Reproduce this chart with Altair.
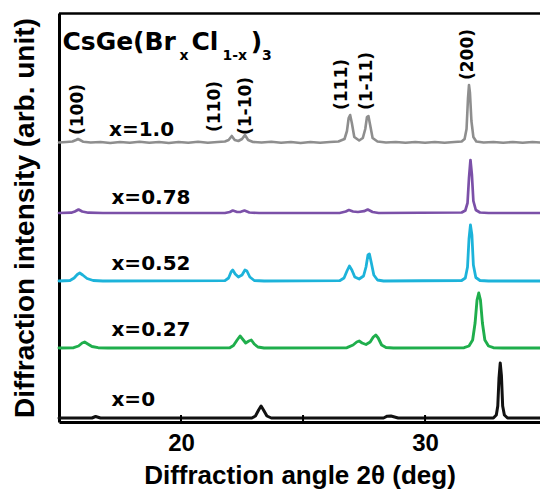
import altair as alt
import pandas as pd

# ---- data (2theta in deg, intensity above each trace's baseline) ----
SERIES = ["x=0", "x=0.27", "x=0.52", "x=0.78", "x=1.0"]
COLORS = ["#111111", "#1fae4c", "#1cb3da", "#7b50a8", "#8e8e8e"]
OFFSETS = [4, 74, 141, 209, 279]
WIDTHS = [3.0, 2.6, 2.6, 2.6, 2.6]
LABEL_Y = [22, 92.5, 158.5, 224, 292]
LABEL_X = [17.15, 17.15, 17.15, 17.15, 17.05]

BLACK = [(15.0, 0.0), (16.35, 0.0), (16.5, 1.5), (16.7, 0.0), (22.9, 0.0), (23.05, 2.0),
         (23.18, 8.0), (23.28, 12.0), (23.38, 8.0), (23.52, 2.0), (23.7, 0.0), (28.3, 0.0),
         (28.45, 1.8), (28.6, 2.0), (28.75, 1.0), (28.9, 0.0), (32.8, 0.0), (32.92, 3.0),
         (32.98, 12.0), (33.03, 40.0), (33.08, 55.0), (33.13, 42.0), (33.18, 12.0),
         (33.25, 3.0), (33.38, 0.0), (34.71, 0.0)]

GREEN = [(15.0, 0.0), (15.6, 0.3), (15.8, 2.0), (15.95, 5.0), (16.05, 6.0), (16.18, 4.0),
         (16.35, 1.5), (16.6, 0.3), (17.0, 0.0), (22.0, 0.3), (22.15, 2.5), (22.3, 8.0),
         (22.42, 12.0), (22.52, 9.0), (22.65, 5.0), (22.78, 7.0), (22.88, 8.0), (23.0, 4.0),
         (23.15, 1.0), (23.4, 0.0), (26.8, 0.3), (27.05, 3.0), (27.2, 6.0), (27.3, 7.0),
         (27.42, 5.0), (27.58, 3.5), (27.75, 6.0), (27.88, 11.0), (27.98, 13.0), (28.08, 10.0),
         (28.22, 3.0), (28.4, 0.5), (28.7, 0.0), (31.6, 0.3), (31.8, 2.0), (31.95, 8.0),
         (32.05, 25.0), (32.13, 48.0), (32.2, 55.0), (32.27, 48.0), (32.35, 25.0),
         (32.45, 8.0), (32.6, 2.0), (32.8, 0.3), (33.2, 0.0), (34.71, 0.0)]

CYAN = [(15.0, 0.0), (15.45, 0.5), (15.62, 3.0), (15.75, 6.5), (15.85, 8.0), (15.97, 6.0),
        (16.15, 2.5), (16.4, 0.5), (16.8, 0.0), (21.8, 0.3), (21.95, 3.0), (22.05, 9.0),
        (22.12, 11.0), (22.22, 7.0), (22.35, 4.0), (22.5, 6.0), (22.62, 11.0), (22.7, 10.0),
        (22.82, 4.0), (23.0, 0.5), (23.4, 0.0), (26.5, 0.3), (26.68, 3.0), (26.8, 10.0),
        (26.9, 15.0), (27.0, 11.0), (27.12, 4.0), (27.3, 2.0), (27.48, 5.0), (27.58, 14.0),
        (27.66, 26.0), (27.72, 27.0), (27.8, 18.0), (27.9, 6.0), (28.05, 1.0), (28.3, 0.0),
        (31.5, 0.5), (31.65, 3.0), (31.74, 14.0), (31.8, 42.0), (31.86, 56.0), (31.92, 46.0),
        (31.98, 16.0), (32.08, 3.5), (32.25, 0.5), (32.6, 0.0), (34.71, 0.0)]

PURPLE = [(15.0, 0.0), (15.5, 0.3), (15.65, 1.5), (15.8, 3.5), (15.95, 1.5), (16.2, 0.3),
          (16.8, 0.0), (21.8, 0.0), (22.0, 1.0), (22.12, 2.5), (22.3, 1.0), (22.45, 1.2),
          (22.6, 2.5), (22.8, 0.5), (23.2, 0.0), (26.5, 0.0), (26.75, 1.5), (26.88, 3.0),
          (27.05, 1.5), (27.25, 1.0), (27.5, 1.8), (27.65, 3.5), (27.85, 1.0), (28.1, 0.0),
          (31.5, 0.5), (31.65, 2.5), (31.74, 10.0), (31.8, 35.0), (31.86, 53.0), (31.92, 38.0),
          (31.98, 12.0), (32.08, 3.0), (32.25, 0.5), (32.6, 0.0), (34.71, 0.0)]

GRAY = [(15.0, 0.5), (15.3, 1.0), (15.55, 1.5), (15.7, 3.0), (15.78, 4.0), (15.86, 3.0),
        (16.0, 1.2), (16.3, 0.5), (16.7, 1.0), (17.1, 0.0), (17.5, 1.0), (17.9, 0.3),
        (18.3, 1.2), (18.7, 0.2), (19.1, 1.0), (19.5, 0.0), (19.9, 1.0), (20.3, 0.2),
        (20.7, 1.2), (21.1, 0.3), (21.5, 1.0), (21.8, 1.5), (21.95, 3.0), (22.08, 7.0),
        (22.2, 3.0), (22.35, 2.0), (22.5, 4.0), (22.62, 8.0), (22.75, 3.0), (22.95, 1.0),
        (23.3, 0.5), (23.7, 1.2), (24.1, 0.2), (24.5, 1.0), (24.9, 0.0), (25.3, 1.0),
        (25.7, 0.3), (26.1, 1.0), (26.45, 1.5), (26.7, 4.0), (26.8, 12.0), (26.87, 25.0),
        (26.93, 28.0), (27.0, 20.0), (27.1, 6.0), (27.3, 2.5), (27.45, 5.0), (27.55, 14.0),
        (27.62, 26.0), (27.68, 27.0), (27.75, 18.0), (27.85, 5.0), (28.05, 1.5), (28.4, 0.5),
        (28.8, 1.0), (29.2, 0.2), (29.6, 1.0), (30.0, 0.3), (30.4, 1.0), (30.8, 0.2),
        (31.2, 1.0), (31.5, 1.5), (31.62, 4.0), (31.7, 14.0), (31.76, 45.0), (31.8, 58.0),
        (31.84, 50.0), (31.9, 22.0), (31.98, 6.0), (32.1, 1.5), (32.4, 0.5), (32.8, 1.0),
        (33.2, 0.2), (33.6, 1.0), (34.0, 0.3), (34.4, 1.0), (34.71, 0.5)]

PEAK_TEXT = ["(100)", "(110)", "(1-10)", "(111)", "(1-11)", "(200)"]
PEAK_X = [15.76, 21.41, 22.68, 26.60, 27.62, 31.74]
PEAK_Y = [287, 290, 287, 312, 312, 342]

TITLE_TEXT = ["CsGe(Br", "x", "Cl", "1-x", ")", "3"]
TITLE_X = [15.14, 19.94, 20.43, 21.70, 22.86, 23.32]
TITLE_Y = [372, 362, 372, 362, 372, 362]
TITLE_SIZE = [25, 14, 25, 14, 25, 14]

TICKS = [20, 25, 30]
X_DOMAIN = [15, 34.71]
Y_DOMAIN = [0, 409]

# ---- tables ----
rows = []
for name, pts, off in zip(SERIES, [BLACK, GREEN, CYAN, PURPLE, GRAY], OFFSETS):
    for x, h in pts:
        rows.append({"series": name, "x": x, "y": h + off})
df = pd.DataFrame(rows)
labels = pd.DataFrame({"series": SERIES, "x": LABEL_X, "y": LABEL_Y})
peaks = pd.DataFrame({"t": PEAK_TEXT, "x": PEAK_X, "y": PEAK_Y})
title = pd.DataFrame({"t": TITLE_TEXT, "x": TITLE_X, "y": TITLE_Y, "fs": TITLE_SIZE})
ticks = pd.DataFrame({"x": TICKS, "y": [0] * len(TICKS), "y2": [7] * len(TICKS)})

xscale = alt.Scale(domain=X_DOMAIN, nice=False, zero=False)
yscale = alt.Scale(domain=Y_DOMAIN, nice=False, zero=False)

XAXIS = alt.Axis(values=[20, 30], title="Diffraction angle 2θ (deg)", grid=False, ticks=False,
                 domainColor="black", domainWidth=3, labelFont="Liberation Sans",
                 labelFontSize=24, labelFontWeight="bold", labelColor="black", labelPadding=9,
                 labelFlush=False, titleFont="Liberation Sans", titleFontSize=26,
                 titleFontWeight="bold", titleColor="black", titlePadding=7)
YAXIS = alt.Axis(title="Diffraction intensity (arb. unit)", grid=False, ticks=False, labels=False,
                 domainColor="black", domainWidth=3, titleFont="Liberation Sans",
                 titleFontSize=28, titleFontWeight="bold", titleColor="black", titlePadding=20)

X = alt.X("x:Q", scale=xscale, axis=XAXIS)
Y = alt.Y("y:Q", scale=yscale, axis=YAXIS)

lines = alt.Chart(df).mark_line(strokeJoin="round", strokeCap="round").encode(
    x=X, y=Y,
    color=alt.Color("series:N", scale=alt.Scale(domain=SERIES, range=COLORS), legend=None),
    strokeWidth=alt.StrokeWidth("series:N", scale=alt.Scale(domain=SERIES, range=WIDTHS), legend=None),
    order=alt.Order("x:Q"),
)

tick_marks = alt.Chart(ticks).mark_rule(color="black", strokeWidth=2).encode(x=X, y=Y, y2="y2:Q")

top_frame = alt.Chart(pd.DataFrame({"a": [0]})).mark_rule(color="black", strokeWidth=2.5).encode(
    x=alt.value(0), x2=alt.value(481), y=alt.value(0.5))

series_text = alt.Chart(labels).mark_text(
    font="DejaVu Sans", fontSize=20, fontWeight="bold", align="left", baseline="middle", color="black"
).encode(x=X, y=Y, text="series:N")

peak_text = alt.Chart(peaks).mark_text(
    font="DejaVu Sans", fontSize=17, fontWeight="bold", align="left", baseline="middle",
    angle=270, color="black"
).encode(x=X, y=Y, text="t:N")

title_text = alt.Chart(title).mark_text(
    font="DejaVu Sans", fontWeight="bold", align="left", baseline="alphabetic", color="black"
).encode(x=X, y=Y, text="t:N", size=alt.Size("fs:Q", scale=None, legend=None))

chart = alt.layer(lines, tick_marks, top_frame, series_text, peak_text, title_text).properties(
    width=481, height=409,
    autosize=alt.AutoSizeParams(type="none"),
    padding={"left": 59, "top": 13, "right": 0, "bottom": 72},
    background="white",
).configure_view(stroke=None)

chart.save("out.html", embed_options={"renderer": "svg", "actions": False})
